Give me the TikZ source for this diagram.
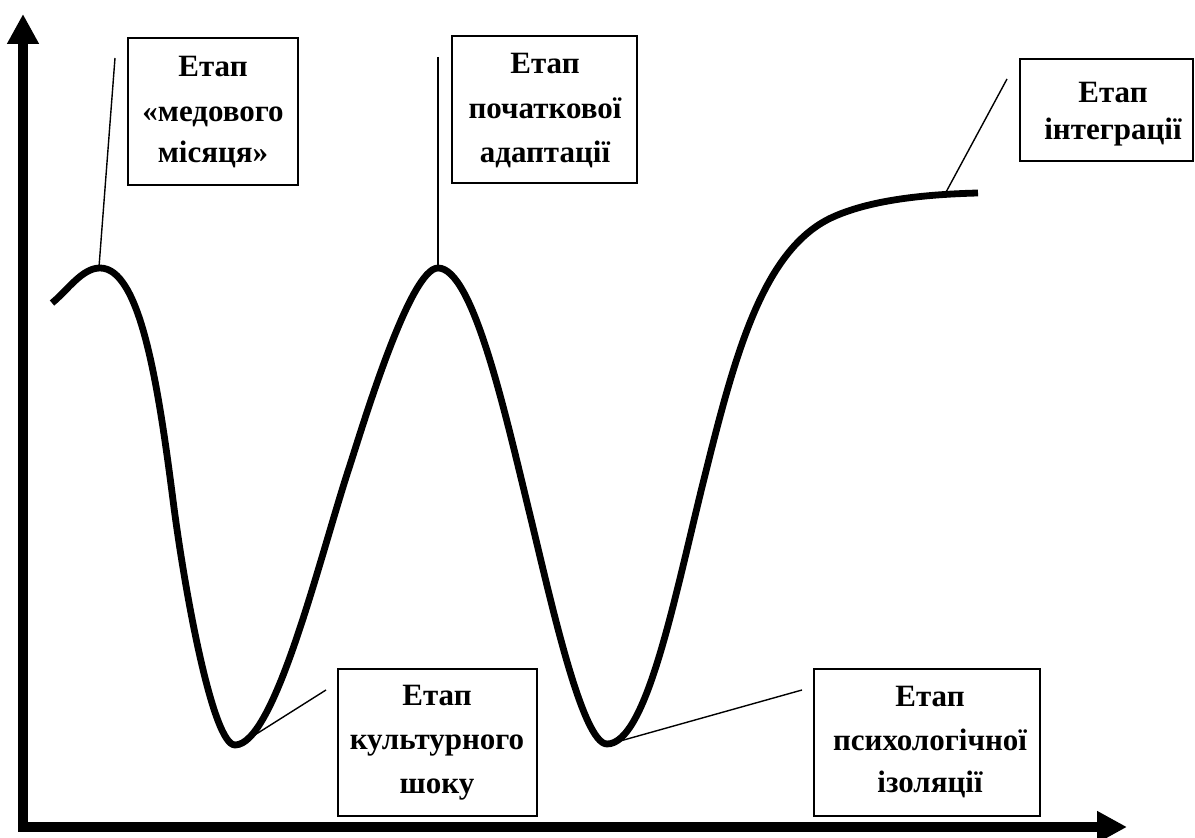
\documentclass[tikz,border=0pt]{standalone}
\usepackage{fontspec}
\setmainfont{Liberation Serif}
\usetikzlibrary{arrows.meta}
\tikzset{
  axisline/.style={line width=5pt, line join=miter,
    {Triangle[length=15pt,width=15pt]}-{Triangle[length=15pt,width=15pt]}},
  curveline/.style={line width=3.4pt, line join=round},
  leader/.style={line width=0.7pt},
  stagebox/.style={draw, line width=0.7pt, rectangle, inner sep=0pt},
  lbl/.style={anchor=base, inner sep=0pt, font=\fontsize{15.5}{18}\selectfont\bfseries},
}
\begin{document}
\begin{tikzpicture}[x=0.5pt,y=-0.5pt]
\useasboundingbox (0,0) rectangle (1195,838);
\fill[white] (0,0) rectangle (1195,838);

% axes
\coordinate (ytip) at (23,14);
\coordinate (orig) at (23,827);
\coordinate (xtip) at (1127,827);
\draw[axisline] (ytip) -- (orig) -- (xtip);

% curve
\draw[curveline] (52,303) .. controls (68,290) and (82,268) .. (100,268)
  .. controls (140,268) and (158,383) .. (173,500)
  .. controls (185,594) and (213,745) .. (235,745)
  .. controls (275,745) and (320,556) .. (350,465)
  .. controls (363,425) and (410,268) .. (438,268)
  .. controls (473,268) and (505,412.5) .. (530,515)
  .. controls (550,597) and (582,744) .. (607,744)
  .. controls (647,744) and (675,595) .. (705,475)
  .. controls (735,355) and (763,248.5) .. (833,217)
  .. controls (868,201.25) and (918,194.5) .. (978,193);

% points on the curve
\coordinate (p1) at (99,267);
\coordinate (p2) at (438,266);
\coordinate (p3) at (945,194);
\coordinate (p4) at (250,738);
\coordinate (p5) at (613,743);
% free ends of leaders
\coordinate (l1) at (115,58);
\coordinate (l2) at (438,57);
\coordinate (l3) at (1007,79);
\coordinate (l4) at (326,690);
\coordinate (l5) at (802,690);

\draw[leader] (l1) -- (p1);
\draw[leader] (l2) -- (p2);
\draw[leader] (l3) -- (p3);
\draw[leader] (l4) -- (p4);
\draw[leader] (l5) -- (p5);

% boxes
\node[stagebox, minimum width=85pt, minimum height=73.5pt] (b1) at (213,111.5) {};
\node[stagebox, minimum width=92.5pt, minimum height=73.5pt] (b2) at (544.5,109.5) {};
\node[stagebox, minimum width=86.5pt, minimum height=51pt] (b3) at (1106.5,110) {};
\node[stagebox, minimum width=99.5pt, minimum height=73.5pt] (b4) at (437.5,742.5) {};
\node[stagebox, minimum width=113pt, minimum height=73.5pt] (b5) at (927,742.5) {};

% labels
\node[lbl] (t1a) at (213,77) {Етап};
\node[lbl] (t1b) at (213,122) {«медового};
\node[lbl] (t1c) at (213,163) {місяця»};

\node[lbl] (t2a) at (545,74) {Етап};
\node[lbl] (t2b) at (545,119) {початкової};
\node[lbl] (t2c) at (545,163) {адаптації};

\node[lbl] (t3a) at (1113,103) {Етап};
\node[lbl] (t3b) at (1113,140) {інтеграції};

\node[lbl] (t4a) at (437,706) {Етап};
\node[lbl] (t4b) at (437,750) {культурного};
\node[lbl] (t4c) at (437,794) {шоку};

\node[lbl] (t5a) at (930,707) {Етап};
\node[lbl] (t5b) at (930,751) {психологічної};
\node[lbl] (t5c) at (930,793) {ізоляції};
\end{tikzpicture}
\end{document}
